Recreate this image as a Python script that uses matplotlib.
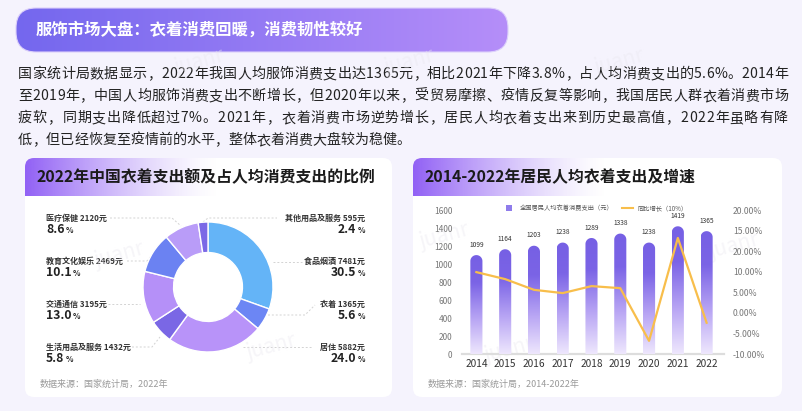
import numpy as np
import matplotlib
matplotlib.use("Agg")
import matplotlib.pyplot as plt
from matplotlib.patches import FancyBboxPatch, Polygon, Rectangle
from matplotlib.colors import LinearSegmentedColormap, to_rgb
from matplotlib.font_manager import FontProperties

FAMILY = ['Noto Sans CJK SC', 'DejaVu Sans']
plt.rcParams['font.family'] = FAMILY

W, H = 803, 411

# ---- texts
title = '服饰市场大盘：衣着消费回暖，消费韧性较好'
para = [
    '国家统计局数据显示，2022年我国人均服饰消费支出达1365元，相比2021年下降3.8%，占人均消费支出的5.6%。2014年',
    '至2019年，中国人均服饰消费支出不断增长，但2020年以来，受贸易摩擦、疫情反复等影响，我国居民人群衣着消费市场',
    '疲软，同期支出降低超过7%。2021年，衣着消费市场逆势增长，居民人均衣着支出来到历史最高值，2022年虽略有降',
    '低，但已经恢复至疫情前的水平，整体衣着消费大盘较为稳健。',
]
left_title = '2022年中国衣着支出额及占人均消费支出的比例'
right_title = '2014-2022年居民人均衣着支出及增速'
left_source = '数据来源：国家统计局，2022年'
right_source = '数据来源：国家统计局，2014-2022年'

# ---- donut data (clockwise from 12 o'clock)
pie_names = ['食品烟酒', '衣着', '居住', '生活用品及服务', '交通通信', '教育文化娱乐', '医疗保健', '其他用品及服务']
pie_amounts = [7481, 1365, 5882, 1432, 3195, 2469, 2120, 595]
pie_shares = [30.5, 5.6, 24.0, 5.8, 13.0, 10.1, 8.6, 2.4]
pie_colors = ['#64B4F7', '#6C86F4', '#B893F9', '#7A67E5', '#B590F8', '#6B82F2', '#B99CF8', '#7B69E6']

# ---- bar / line data
years = ['2014', '2015', '2016', '2017', '2018', '2019', '2020', '2021', '2022']
spend = [1099, 1164, 1203, 1238, 1289, 1338, 1238, 1419, 1365]
growth = [9.9, 8.2, 5.6, 4.8, 6.5, 6.0, -6.8, 18.2, -2.4]
left_ticks = [0, 200, 400, 600, 800, 1000, 1200, 1400, 1600]
right_ticks = [-10, -5, 0, 5, 10, 15, 20, 25]
right_labels = ['-10.00%', '-5.00%', '0.00%', '5.00%', '10.00%', '20.00%', '15.00%', '20.00%']
legend_labels = ['全国居民人均衣着消费支出（元）', '同比增长（10%）']

fig = plt.figure(figsize=(W / 100, H / 100), dpi=100)
fig.patch.set_facecolor('#F5F3FD')
bg = fig.add_axes([0, 0, 1, 1])
bg.set_xlim(0, W)
bg.set_ylim(H, 0)
bg.set_autoscale_on(False)
bg.axis('off')
renderer = fig.canvas.get_renderer()


def text_w(s, fp):
    return renderer.get_text_width_height_descent(s, fp, ismath=False)[0]


# ---- banner
banner = FancyBboxPatch((16, 8), 492, 44, boxstyle='round,pad=0,rounding_size=20',
                        fc='none', ec='#DCD0FB', lw=0.8, zorder=3)
bg.add_patch(banner)
cm_banner = LinearSegmentedColormap.from_list('banner', ['#7467EE', '#B58EF9'])
im = bg.imshow(np.linspace(0, 1, 256).reshape(1, -1), extent=[16, 508, 52, 8],
               cmap=cm_banner, aspect='auto', zorder=2, interpolation='bilinear')
im.set_clip_path(banner)
bg.text(36, 30, title, color='white', fontsize=11.8, fontweight='bold', va='center', zorder=4)

# ---- paragraph, justified lines
para_fp = FontProperties(family=FAMILY, size=10.1)
em = 10.1 * 100 / 72
ref = text_w('国国', para_fp)
para_y = [74, 96, 118, 140]
for k, (line, y) in enumerate(zip(para, para_y)):
    adv = []
    for c in line:
        if ord(c) > 0x2E80:
            adv.append(em)
        else:
            adv.append(text_w('国' + c + '国', para_fp) - ref)
    if k < len(para) - 1:
        gap = (788 - 18 - sum(adv)) / (len(line) - 1)
    else:
        gap = 0
    x = 18
    for c, a in zip(line, adv):
        bg.text(x, y, c, fontproperties=para_fp, va='center', ha='left', color='#222222')
        x += a + gap

# ---- panels with header gradient
for x0, w, ttl, src in [(25, 367, left_title, left_source), (413, 369, right_title, right_source)]:
    p = FancyBboxPatch((x0, 158), w, 239, boxstyle='round,pad=0,rounding_size=9',
                       fc='white', ec='none', zorder=1)
    bg.add_patch(p)
    t = np.linspace(0, 1, 256)
    rgba = np.zeros((2, 256, 4))
    rgba[..., :3] = to_rgb('#9160F5')
    rgba[..., 3] = np.clip(1 - t, 0, 1) ** 1.4
    him = bg.imshow(rgba, extent=[x0, x0 + 195, 196, 158], aspect='auto', zorder=2,
                    interpolation='bilinear')
    him.set_clip_path(p)
    bg.text(x0 + 12, 177, ttl, fontsize=11.4, fontweight='bold', color='#1B1B1B',
            va='center', zorder=4)
    bg.text(x0 + 15, 384, src, fontsize=6.5, color='#9A9A9A', va='center', zorder=4)

# ---- donut
cx, cy, r = 208, 287, 65
pad = 1.03
pax = fig.add_axes([(cx - r * pad) / W, 1 - (cy + r * pad) / H, 2 * r * pad / W, 2 * r * pad / H])
pax.pie(pie_amounts, colors=pie_colors, startangle=90, counterclock=False, radius=1,
        wedgeprops=dict(width=0.47, edgecolor='white', linewidth=1.0))
pax.set_xlim(-pad, pad)
pax.set_ylim(-pad, pad)
pax.axis('off')

name_fp = FontProperties(family=FAMILY, size=5.8, weight='bold')
num_fp = FontProperties(family=FAMILY, size=8.8, weight='bold')
pct_fp = FontProperties(family=FAMILY, size=5.6, weight='bold')
rows_y = [218, 261, 304, 347]
left_side = [6, 5, 4, 3]
right_side = [7, 0, 1, 2]
for idx, y in zip(left_side, rows_y):
    bg.text(46, y, f'{pie_names[idx]} {pie_amounts[idx]}元', fontproperties=name_fp,
            color='#333333', va='center', ha='left', zorder=4)
    num = f'{pie_shares[idx]:.1f}'
    bg.text(46, y + 15, num, fontproperties=num_fp, color='#222222', va='baseline', ha='left', zorder=4)
    bg.text(46 + text_w(num, num_fp) + 1, y + 15, '%', fontproperties=pct_fp, color='#222222',
            va='baseline', ha='left', zorder=4)
for idx, y in zip(right_side, rows_y):
    bg.text(365, y, f'{pie_names[idx]} {pie_amounts[idx]}元', fontproperties=name_fp,
            color='#333333', va='center', ha='right', zorder=4)
    num = f'{pie_shares[idx]:.1f}'
    bg.text(365, y + 15, '%', fontproperties=pct_fp, color='#222222', va='baseline', ha='right', zorder=4)
    bg.text(365 - text_w('%', pct_fp) - 1.5, y + 15, num, fontproperties=num_fp, color='#222222',
            va='baseline', ha='right', zorder=4)

# dashed leader lines
leaders = [
    [(110, 218), (172, 218), (181, 226)],
    [(203, 222), (208, 218), (277, 218)],
    [(127, 261), (147, 261), (153, 254)],
    [(108, 304), (140, 304)],
    [(132, 347), (152, 347), (160, 337)],
    [(273, 262), (302, 262)],
    [(268, 315), (305, 315), (315, 305)],
    [(243, 347), (312, 347)],
]
for pts in leaders:
    xs, ys = zip(*pts)
    bg.plot(xs, ys, color='#D3D3D3', lw=0.7, dashes=(2, 2), zorder=3)

# ---- bar + line chart
bx0, bx1, by0, by1 = 462, 721, 354, 210
bax = fig.add_axes([bx0 / W, 1 - by0 / H, (bx1 - bx0) / W, (by0 - by1) / H])
bax.patch.set_alpha(0)
bax.set_xlim(-0.5, 8.5)
bax.set_ylim(0, 1600)
bw = 0.42
px_x = (bx1 - bx0) / 9
px_y = (by0 - by1) / 1600
ry = (bw / 2) * px_x / px_y
cm_bar = LinearSegmentedColormap.from_list('bar', [(0, '#EEE7FD'), (0.35, '#B9A6F4'),
                                                    (0.72, '#7B64E6'), (1, '#7660E4')])
theta = np.linspace(0, np.pi, 40)
for i, v in enumerate(spend):
    cap = np.column_stack([i + bw / 2 * np.cos(theta), v - ry + ry * np.sin(theta)])
    verts = np.vstack([[(i - bw / 2, 0), (i + bw / 2, 0)], cap])
    clip = Polygon(verts, closed=True, fc='none', ec='none', transform=bax.transData)
    bax.add_patch(clip)
    gim = bax.imshow(np.linspace(0, 1, 256).reshape(-1, 1), extent=[i - bw / 2, i + bw / 2, 0, v],
                     origin='lower', cmap=cm_bar, aspect='auto', zorder=2, interpolation='bilinear')
    gim.set_clip_path(clip)
    bax.annotate(str(v), (i, v), xytext=(0, 4.5), textcoords='offset points', ha='center',
                 va='bottom', fontsize=4.8, color='#333333')
bax.set_xlim(-0.5, 8.5)
bax.set_ylim(0, 1600)
bax.axhline(0, color='#DDDDDD', lw=1.6, xmax=1.012, clip_on=False, zorder=1)
bax.set_xticks(range(len(years)))
bax.set_xticklabels(years, fontsize=7.3, color='#333333')
bax.set_yticks(left_ticks)
bax.set_yticklabels([str(t) for t in left_ticks], fontsize=6, color='#777777')
bax.tick_params(axis='x', length=0, pad=3.5)
bax.tick_params(axis='y', length=0, pad=7)
for s in bax.spines.values():
    s.set_visible(False)

tw = bax.twinx()
tw.set_ylim(-10, 25)
tw.plot(range(len(years)), growth, color='#F8BE4B', lw=1.6, zorder=3)
tw.set_yticks(right_ticks)
tw.set_yticklabels(right_labels, fontsize=6.2, color='#777777')
tw.tick_params(axis='y', length=0, pad=8.6)
for s in tw.spines.values():
    s.set_visible(False)

# legend drawn by hand
bg.add_patch(Rectangle((506.5, 205), 6, 6, fc='#8F7CEB', ec='none', zorder=4))
bg.text(520, 208, legend_labels[0], fontsize=4.5, color='#555555', va='center', zorder=4)
bg.plot([622, 633], [208, 208], color='#F8BE4B', lw=1.5, zorder=4)
bg.text(637, 208, legend_labels[1], fontsize=4.5, color='#555555', va='center', zorder=4)

# faint watermarks
for wx, wy in [(120, 255), (272, 347), (445, 236), (735, 246), (510, 350), (200, 62), (620, 62), (410, 62)]:
    bg.text(wx, wy, 'juanr', fontsize=15, color='#E9E7EF', alpha=0.4, rotation=15,
            ha='center', va='center', zorder=6)

fig.savefig('out.png', dpi=100, facecolor=fig.get_facecolor())
